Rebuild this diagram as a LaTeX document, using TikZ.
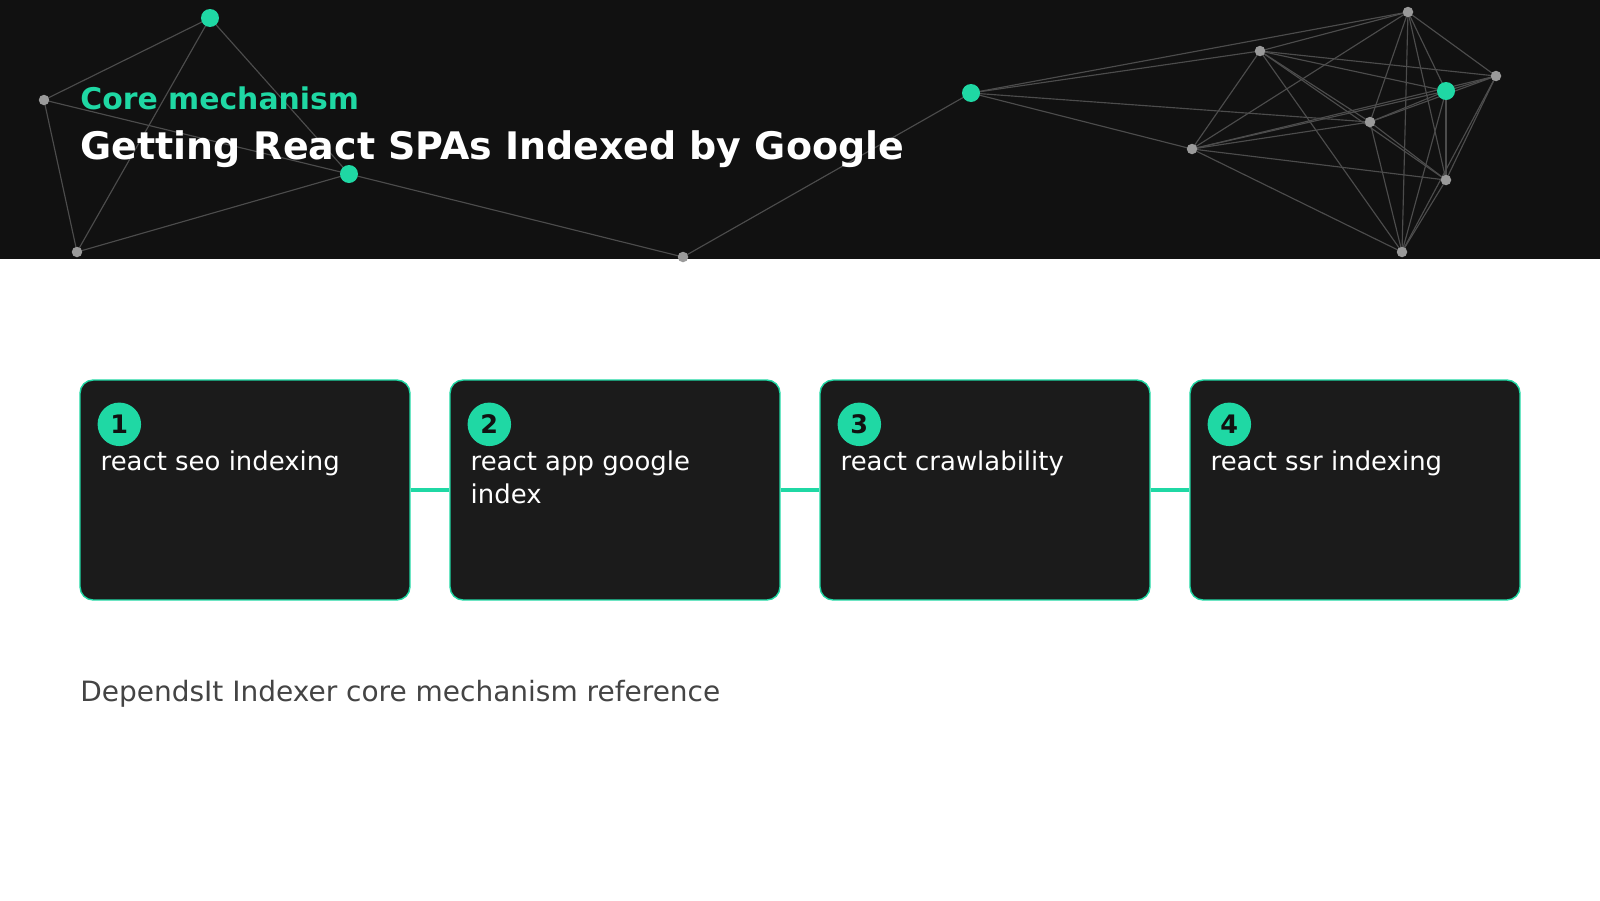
\documentclass[tikz,border=0pt]{standalone}
\usepackage{fontspec}
\setmainfont{DejaVu Sans}
\usetikzlibrary{positioning}

\definecolor{mint}{HTML}{1FD8A4}
\definecolor{tlo}{HTML}{111111}
\definecolor{karta}{HTML}{1B1B1B}
\definecolor{siec}{HTML}{4C4C4C}
\definecolor{kropka}{HTML}{9A9A9A}
\definecolor{stopka}{HTML}{444444}

\begin{document}
\begin{tikzpicture}[x=0.02cm,y=-0.02cm,
    card/.style={draw=mint,line width=0.8pt,fill=karta,rounded corners=0.26cm,
        minimum width=6.6cm,minimum height=4.4cm,inner sep=0pt},
    badge/.style={circle,fill=mint,minimum size=0.87cm,inner sep=0pt,text=tlo,
        font=\fontsize{14.5}{16}\selectfont\bfseries},
    cardtext/.style={anchor=north west,inner sep=0pt,align=left,text=white,
        font=\fontsize{14.75}{19}\selectfont},
    link/.style={draw=mint,line width=2.2pt},
    edge/.style={draw=siec,line width=0.65pt}]
\useasboundingbox (0,0) rectangle (1600,900);
\fill[white] (0,0) rectangle (1600,900);

%pasek naglowka
\fill[tlo] (0,0) rectangle (1600,259);

%punkty sieci
\coordinate (p1) at (210,18);
\coordinate (p2) at (44,100);
\coordinate (p3) at (77,252);
\coordinate (p4) at (349,174);
\coordinate (p5) at (683,257);
\coordinate (p6) at (971,93);
\coordinate (q1) at (1408,12);
\coordinate (q2) at (1260,51);
\coordinate (q3) at (1496,76);
\coordinate (q4) at (1446,91);
\coordinate (q5) at (1370,122);
\coordinate (q6) at (1192,149);
\coordinate (q7) at (1446,180);
\coordinate (q8) at (1402,252);

%krawedzie
\foreach \a/\b in {p1/p2,p1/p3,p1/p4,p2/p3,p2/p4,p3/p4,p4/p5,p5/p6,p6/q1,p6/q2,p6/q5,p6/q6}
    \draw[edge] (\a) -- (\b);
\foreach \i in {1,...,7}{
    \pgfmathtruncatemacro\nast{\i+1}
    \foreach \j in {\nast,...,8}
        \draw[edge] (q\i) -- (q\j);
}

%kropki
\foreach \c in {p2,p3,p5,q1,q2,q3,q5,q6,q7,q8}
    \fill[kropka] (\c) circle (0.105cm);
\foreach \c in {p1,p4,p6,q4}
    \fill[mint] (\c) circle (0.18cm);

%tytul
\node[anchor=base west,inner sep=0pt,text=mint,font=\fontsize{17}{19}\selectfont\bfseries]
    (nadtytul) at (80,109) {Core mechanism};
\node[anchor=base west,inner sep=0pt,text=white,font=\fontsize{21.6}{24}\selectfont\bfseries]
    (tytul) at (80,159) {Getting React SPAs Indexed by Google};

%karty
\foreach \i/\x/\txt in {1/245/{react seo indexing},2/615/{react app google\\index},
        3/985/{react crawlability},4/1355/{react ssr indexing}}{
    \node[card] (c\i) at (\x,490) {};
    \node[badge] (n\i) at ([shift={(40,45)}]c\i.north west) {\i};
    \node[cardtext] (t\i) at ([shift={(21,71)}]c\i.north west) {\txt};
}

%polaczenia
\foreach \a/\b in {1/2,2/3,3/4}
    \draw[link] (c\a.east) -- (c\b.west);

%stopka
\node[anchor=base west,inner sep=0pt,text=stopka,font=\fontsize{15.93}{18}\selectfont]
    (stopka) at (80,701) {DependsIt Indexer core mechanism reference};

%end
\end{tikzpicture}
\end{document}
